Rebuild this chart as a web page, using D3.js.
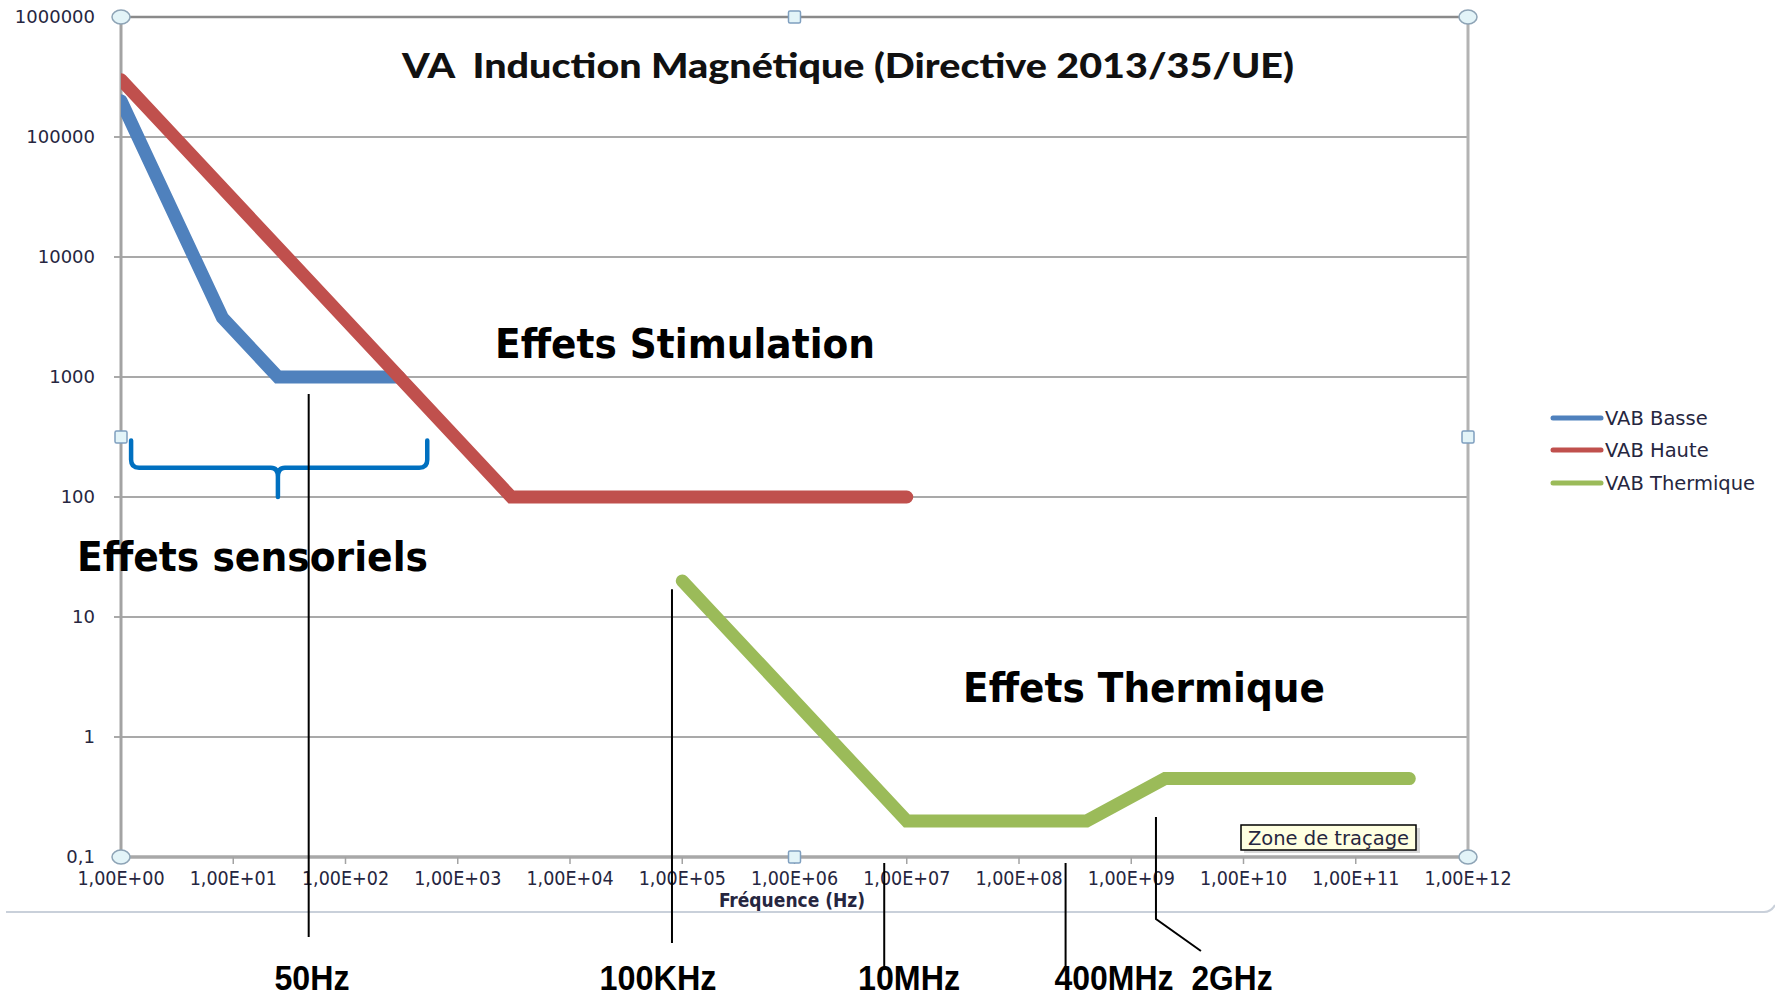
<!DOCTYPE html>
<html>
<head>
<meta charset="utf-8">
<script src="https://cdn.jsdelivr.net/npm/d3@7"></script>
<style>
  body { margin: 0; background: #fff; }
  svg { display: block; }
</style>
</head>
<body>
<div id="chart"></div>
<script>
// data
const freqBasse = [1, 8, 25, 300];
const valBasse = [200000, 3125, 1000, 1000];
const freqHaute = [1, 3000, 1e7];
const valHaute = [300000, 100, 100];
const freqThermique = [1e5, 1e7, 4e8, 2e9, 3e11];
const valThermique = [20, 0.2, 0.2, 0.45, 0.45];
const seriesNames = ["VAB Basse", "VAB Haute", "VAB Thermique"];
const seriesColors = ["#4f81bd", "#c0504d", "#9bbb59"];

const xTickValues = d3.range(0, 13).map(i => Math.pow(10, i));
const xTickLabels = ["1,00E+00", "1,00E+01", "1,00E+02", "1,00E+03", "1,00E+04", "1,00E+05", "1,00E+06",
  "1,00E+07", "1,00E+08", "1,00E+09", "1,00E+10", "1,00E+11", "1,00E+12"];
const yTickValues = [0.1, 1, 10, 100, 1000, 10000, 100000, 1000000];
const yTickLabels = ["0,1", "1", "10", "100", "1000", "10000", "100000", "1000000"];

// hand drawn markers under the chart
const markerFreqs = [47, 81000, 6.3e6, 2.6e8, 1.66e9];
const markerTops = [720, 17, null, null, 0.215]; // value where the line starts (null = under axis)
const markerLabels = ["50Hz", "100KHz", "10MHz", "400MHz", "2GHz"];

const width = 1775;
const height = 998;
const marginLeft = 121;
const marginRight = 1468;
const marginTop = 17;
const marginBottom = 857;

const svg = d3.select("#chart").append("svg")
  .attr("width", width)
  .attr("height", height)
  .attr("font-family", "DejaVu Sans, sans-serif");

const x = d3.scaleLog().domain([1, 1e12]).range([marginLeft, marginRight]);
const y = d3.scaleLog().domain([0.1, 1e6]).range([marginBottom, marginTop]);

// excel frame bottom line
svg.append("path")
  .attr("d", `M6,912 H1764 Q1771,912 1775,905`)
  .attr("fill", "none")
  .attr("stroke", "#c9d0da")
  .attr("stroke-width", 2);

// gridlines + small ticks on the left
svg.append("g").selectAll("line")
  .data(yTickValues)
  .join("line")
  .attr("x1", marginLeft - 7)
  .attr("x2", marginRight)
  .attr("y1", d => y(d))
  .attr("y2", d => y(d))
  .attr("stroke", "#8c8c8c")
  .attr("stroke-width", 1.5);

// top border
svg.append("line")
  .attr("x1", marginLeft).attr("x2", marginRight)
  .attr("y1", marginTop).attr("y2", marginTop)
  .attr("stroke", "#8a8a8a").attr("stroke-width", 2.5);

// right border
svg.append("line")
  .attr("x1", marginRight).attr("x2", marginRight)
  .attr("y1", marginTop).attr("y2", marginBottom)
  .attr("stroke", "#b3b3b3").attr("stroke-width", 3);

// y axis
svg.append("line")
  .attr("x1", marginLeft).attr("x2", marginLeft)
  .attr("y1", marginTop).attr("y2", marginBottom)
  .attr("stroke", "#a3a3a3").attr("stroke-width", 3);

// x axis + ticks
svg.append("line")
  .attr("x1", marginLeft).attr("x2", marginRight)
  .attr("y1", marginBottom).attr("y2", marginBottom)
  .attr("stroke", "#a8a8a8").attr("stroke-width", 3.5);
svg.append("g").selectAll("line")
  .data(xTickValues)
  .join("line")
  .attr("x1", d => x(d)).attr("x2", d => x(d))
  .attr("y1", marginBottom).attr("y2", marginBottom + 7)
  .attr("stroke", "#a3a3a3").attr("stroke-width", 1.5);

// y labels
svg.append("g").selectAll("text")
  .data(yTickValues)
  .join("text")
  .attr("x", 95)
  .attr("y", d => y(d))
  .attr("dy", "0.35em")
  .attr("text-anchor", "end")
  .attr("font-size", 18)
  .attr("fill", "#262640")
  .text((d, i) => yTickLabels[i]);

// x labels
svg.append("g").selectAll("text")
  .data(xTickValues)
  .join("text")
  .attr("x", d => x(d))
  .attr("y", 878)
  .attr("dy", "0.35em")
  .attr("text-anchor", "middle")
  .attr("font-family", "DejaVu Sans Condensed, DejaVu Sans, sans-serif")
  .attr("font-stretch", "condensed")
  .attr("font-size", 19.5)
  .attr("fill", "#262640")
  .text((d, i) => xTickLabels[i]);

// x axis title
svg.append("text")
  .attr("x", 792).attr("y", 900)
  .attr("dy", "0.35em")
  .attr("text-anchor", "middle")
  .attr("font-family", "DejaVu Sans Condensed, DejaVu Sans, sans-serif")
  .attr("font-stretch", "condensed")
  .attr("font-weight", "bold")
  .attr("font-size", 19)
  .attr("fill", "#262640")
  .text("Fréquence (Hz)");

// title
svg.append("text")
  .attr("x", 402).attr("y", 66)
  .attr("dy", "0.35em")
  .attr("font-family", "Lato, sans-serif")
  .attr("font-weight", 900)
  .attr("font-size", 35)
  .attr("textLength", 892)
  .attr("lengthAdjust", "spacingAndGlyphs")
  .attr("fill", "#111")
  .style("white-space", "pre")
  .text("VA  Induction Magnétique (Directive 2013/35/UE)");

// series
const series = [
  freqBasse.map((f, i) => [f, valBasse[i]]),
  freqHaute.map((f, i) => [f, valHaute[i]]),
  freqThermique.map((f, i) => [f, valThermique[i]]),
];

svg.append("clipPath").attr("id", "clip")
  .append("rect")
  .attr("x", marginLeft).attr("y", 0)
  .attr("width", width - marginLeft).attr("height", height);

const line = d3.line().x(d => x(d[0])).y(d => y(d[1]));

svg.append("g")
  .attr("clip-path", "url(#clip)")
  .selectAll("path")
  .data(series)
  .join("path")
  .attr("d", line)
  .attr("fill", "none")
  .attr("stroke", (d, i) => seriesColors[i])
  .attr("stroke-width", 13)
  .attr("stroke-linecap", "round")
  .attr("stroke-linejoin", "miter");

// legend
const legend = svg.append("g").selectAll("g")
  .data(seriesNames)
  .join("g")
  .attr("transform", (d, i) => `translate(1551,${[418, 450, 483][i]})`);
legend.append("line")
  .attr("x1", 2).attr("x2", 50)
  .attr("stroke", (d, i) => seriesColors[i])
  .attr("stroke-width", 5)
  .attr("stroke-linecap", "round");
legend.append("text")
  .attr("x", 54)
  .attr("dy", "0.35em")
  .attr("font-size", 19.5)
  .attr("fill", "#262640")
  .text(d => d);

// annotation texts
const effets = [
  { t: "Effets Stimulation", x: 495, y: 358, w: 380 },
  { t: "Effets sensoriels", x: 77, y: 571, w: 351 },
  { t: "Effets Thermique", x: 963, y: 702, w: 362 },
];
svg.append("g").selectAll("text")
  .data(effets)
  .join("text")
  .attr("x", d => d.x)
  .attr("y", d => d.y)
  .attr("font-family", "Comic Sans MS, DejaVu Sans, sans-serif")
  .attr("font-weight", "bold")
  .attr("font-size", 40)
  .attr("textLength", d => d.w)
  .attr("lengthAdjust", "spacingAndGlyphs")
  .attr("fill", "#000")
  .text(d => d.t);

// blue brace (from ~1 Hz to ~535 Hz, tip at 25 Hz)
const bx0 = x(1.23), bx1 = x(535), bxm = x(25);
const byTop = y(295), byMid = y(175), byTip = y(100);
svg.append("path")
  .attr("d", `M${bx0},${byTop} V${byMid - 8} Q${bx0},${byMid} ${bx0 + 8},${byMid}
    H${bxm - 7} Q${bxm},${byMid} ${bxm},${byMid + 9} V${byTip}
    M${bxm},${byMid + 9} Q${bxm},${byMid} ${bxm + 7},${byMid}
    H${bx1 - 8} Q${bx1},${byMid} ${bx1},${byMid - 8} V${byTop}`)
  .attr("fill", "none")
  .attr("stroke", "#0070c0")
  .attr("stroke-width", 4.5)
  .attr("stroke-linecap", "round");

// marker lines + labels
const markers = svg.append("g");
markerFreqs.forEach((f, i) => {
  const mx = x(f);
  const top = markerTops[i] === null ? marginBottom + 6 : y(markerTops[i]);
  let d;
  if (i === 4) d = `M${mx},${top} V919 L${mx + 45},951`;
  else if (i < 2) d = `M${mx},${top} V${i === 0 ? 937 : 943}`;
  else d = `M${mx},${top} V970`;
  markers.append("path")
    .attr("d", d)
    .attr("fill", "none")
    .attr("stroke", "#000")
    .attr("stroke-width", 2);
});
const labelX = [312, 658, 909, 1114, 1232];
const labelW = [75, 117, 102, 119, 81];
markers.selectAll("text")
  .data(markerLabels)
  .join("text")
  .attr("x", (d, i) => labelX[i] - labelW[i] / 2)
  .attr("y", 990)
  .attr("font-family", "Liberation Sans Narrow, Liberation Sans, sans-serif")
  .attr("font-weight", "bold")
  .attr("font-size", 35)
  .attr("textLength", (d, i) => labelW[i])
  .attr("lengthAdjust", "spacingAndGlyphs")
  .attr("fill", "#000")
  .text(d => d);

// "Zone de traçage" tooltip
const tip = svg.append("g").attr("transform", "translate(1241,825)");
tip.append("rect")
  .attr("x", 3).attr("y", 3).attr("width", 176).attr("height", 25)
  .attr("fill", "#bdbdbd").attr("opacity", 0.6);
tip.append("rect")
  .attr("width", 175).attr("height", 25)
  .attr("fill", "#ffffe1").attr("stroke", "#000").attr("stroke-width", 1.5);
tip.append("text")
  .attr("x", 87.5).attr("y", 13)
  .attr("dy", "0.35em")
  .attr("text-anchor", "middle")
  .attr("font-size", 19.5)
  .attr("fill", "#262640")
  .text("Zone de traçage");

// selection handles of the plot area
const mx = (marginLeft + marginRight) / 2, my = (marginTop + marginBottom) / 2;
const corners = [[marginLeft, marginTop], [marginRight, marginTop], [marginLeft, marginBottom], [marginRight, marginBottom]];
const mids = [[mx, marginTop], [marginLeft, my], [marginRight, my], [mx, marginBottom]];
svg.append("g").selectAll("ellipse")
  .data(corners)
  .join("ellipse")
  .attr("cx", d => d[0]).attr("cy", d => d[1])
  .attr("rx", 9).attr("ry", 7)
  .attr("fill", "#e3f4f8").attr("stroke", "#8ea4b6").attr("stroke-width", 1.5);
svg.append("g").selectAll("rect")
  .data(mids)
  .join("rect")
  .attr("x", d => d[0] - 6).attr("y", d => d[1] - 6)
  .attr("width", 12).attr("height", 12).attr("rx", 1.5)
  .attr("fill", "#e3f4f8").attr("stroke", "#7f9fbf").attr("stroke-width", 1.5);
</script>
</body>
</html>
